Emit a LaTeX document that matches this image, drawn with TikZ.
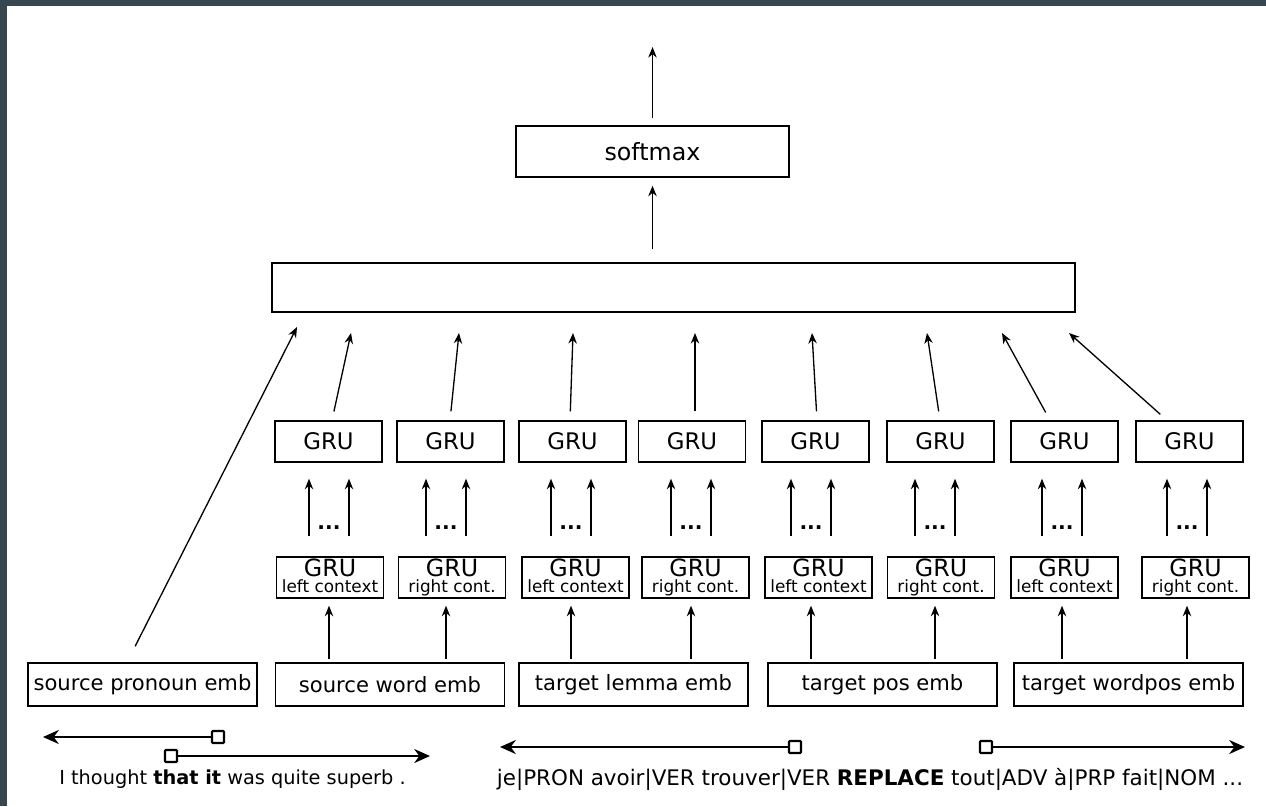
\documentclass[tikz,border=0pt]{standalone}
\usepackage{fontspec}
\setmainfont{DejaVu Sans}
\usetikzlibrary{arrows.meta}
\definecolor{framegray}{HTML}{37474F}

\begin{document}
\begin{tikzpicture}[x=0.02cm, y=-0.02cm, >={Stealth[length=6pt,width=4.8pt]},
    box/.style={draw, line width=0.8pt, inner sep=0pt},
    emb/.style={box, minimum width=4.58cm, minimum height=0.86cm, font=\fontsize{12}{14}\selectfont},
    gru/.style={box, minimum width=2.14cm, minimum height=0.82cm, font=\fontsize{13}{15}\selectfont},
    ctx/.style={box, minimum width=2.14cm, minimum height=0.82cm, align=center, font=\fontsize{9.6}{9}\selectfont},
    sq/.style={draw, line width=1.2pt, fill=white, rounded corners=0.5pt, minimum size=0.24cm, inner sep=0pt},
    arr/.style={->, line width=0.75pt},
    longarr/.style={-{Stealth[length=9pt,width=8pt]}, line width=1.1pt}]

    % Rahmen
    \useasboundingbox (0,0) rectangle (1266,806);
    \fill[framegray] (0,0) rectangle (7,806);
    \fill[framegray] (0,0) rectangle (1266,6);

    % softmax und Verkettung
    \node[box, minimum width=5.46cm, minimum height=1.02cm, font=\fontsize{13.5}{16}\selectfont] (softmax) at (652.5,151.5) {softmax};
    \node[box, line width=1.3pt, minimum width=16.06cm, minimum height=0.98cm] (concat) at (673.5,287.5) {};
    \coordinate (out) at (652.5,47);
    \draw[arr, shorten <=0.14cm] (softmax.north) -- (out);
    \draw[arr, shorten <=0.26cm, shorten >=0.16cm] (softmax.south |- concat.north) -- (softmax.south);

    % Einbettungen
    \node[emb] (pron) at (142.5,684.5) {source pronoun emb};
    \node[emb] (word) at (390,684.5) {source word emb};
    \node[emb] (lemma) at (633.5,684.5) {target lemma emb};
    \node[emb] (pos) at (882.5,684.5) {target pos emb};
    \node[emb] (wpos) at (1128.5,684.5) {target wordpos emb};

    % GRU-Schichten
    \foreach \i/\x in {1/328.5, 2/450.5, 3/572.5, 4/692, 5/815.5, 6/940.5, 7/1064.5, 8/1189.5}
        \node[gru] (up\i) at (\x,441.5) {GRU};
    \foreach \i/\x/\t in {1/330/left context, 2/452/right cont., 3/575.5/left context, 4/695.5/right cont.,
                          5/818.5/left context, 6/941/right cont., 7/1064.5/left context, 8/1195.5/right cont.}
        \node[ctx] (lo\i) at (\x,577.5) {{\fontsize{13.5}{9}\selectfont GRU}\\\t\vphantom{g}};

    % Pfeile je Spalte
    \foreach \i/\c/\s/\t/\e in {1/329/332/351/word, 2/446/450/459/word, 3/571/570/573/lemma, 4/691/695/695/lemma,
                                5/811/817/812/pos, 6/935/940/927/pos, 7/1062/1050/1002/wpos, 8/1187/1167/1069/wpos}{
        \coordinate (c\i) at (\c,0);
        \coordinate (cl\i) at (\c-20,0);
        \coordinate (cr\i) at (\c+20,0);
        \coordinate (s\i) at (\s,0);
        \coordinate (tip\i) at (\t,333);
        \draw[arr, shorten <=0.06cm, shorten >=0.14cm] (c\i |- \e.north) -- (c\i |- lo\i.south);
        \draw[arr, shorten <=0.4cm, shorten >=0.32cm] (cl\i |- lo\i.north) -- (cl\i |- up\i.south);
        \draw[arr, shorten <=0.4cm, shorten >=0.32cm] (cr\i |- lo\i.north) -- (cr\i |- up\i.south);
        \node[font=\fontsize{11.5}{13}\selectfont\bfseries, anchor=base, inner sep=0pt] (dots\i) at (\c,529) {...};
        \draw[arr, shorten <=0.18cm] (s\i |- up\i.north) -- (tip\i);
    }
    \coordinate (tip0) at (297,327);
    \draw[arr, shorten <=0.36cm] ([xshift=-0.31cm]pron.north) -- (tip0);

    % Quelltext mit Kontextrichtungen
    \node[sq] (sqa) at (218,737) {};
    \node[sq] (sqb) at (171,756) {};
    \coordinate (enda) at (43,737);
    \coordinate (endb) at (430,756);
    \draw[longarr] (sqa) -- (enda);
    \draw[longarr] (sqb) -- (endb);
    \node[font=\fontsize{11}{13}\selectfont] (src) at (232.5,779) {I thought \textbf{that it} was quite superb .};

    % Zieltext
    \node[sq] (sqc) at (795,747) {};
    \node[sq] (sqd) at (986,747) {};
    \coordinate (endc) at (500,747);
    \coordinate (endd) at (1245,747);
    \draw[longarr] (sqc) -- (endc);
    \draw[longarr] (sqd) -- (endd);
    \node[font=\fontsize{12.2}{14}\selectfont] (tgt) at (870,779) {je|PRON avoir|VER trouver|VER \textbf{REPLACE} tout|ADV à|PRP fait|NOM ...};

\end{tikzpicture}
\end{document}
